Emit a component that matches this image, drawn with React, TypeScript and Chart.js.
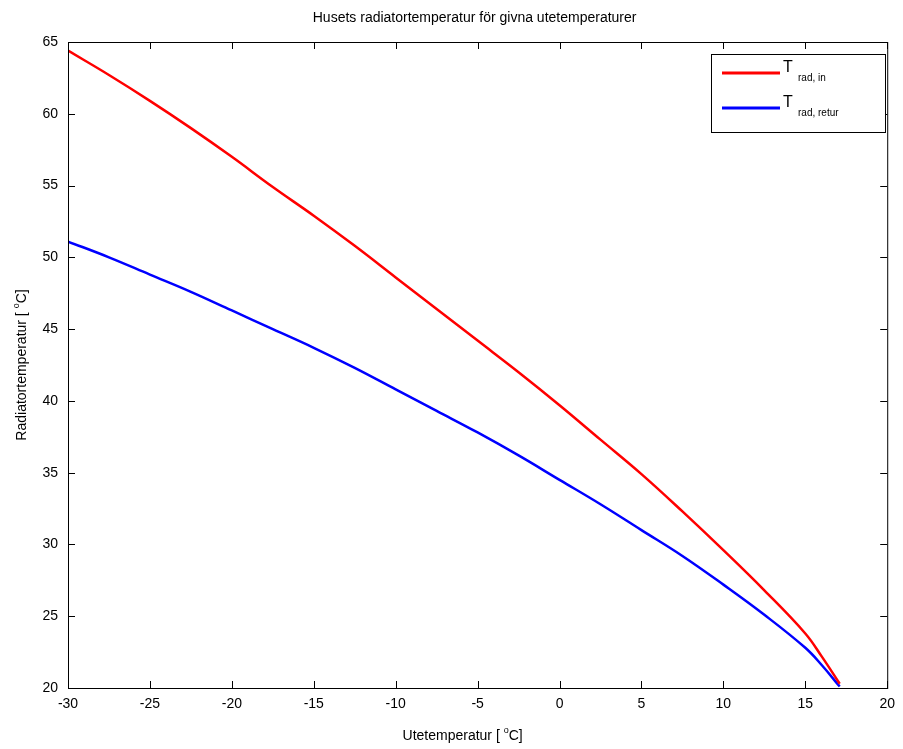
import React, { useEffect, useRef } from "react";
import { Chart, registerables } from "chart.js";

Chart.register(...registerables);

const outdoorTemps = [-30, -27.5, -25, -22.5, -20, -17.5, -15, -12.5, -10, -7.5, -5, -2.5, 0, 2.5, 5, 7.5, 10, 12.5, 15, 16, 17.1];
const radIn = [64.4, 62.7, 60.9, 59.0, 57.0, 54.9, 52.9, 50.8, 48.6, 46.4, 44.2, 42.0, 39.7, 37.3, 34.9, 32.3, 29.6, 26.8, 23.8, 22.2, 20.3];
const radRetur = [51.1, 50.0, 48.8, 47.6, 46.3, 45.0, 43.7, 42.3, 40.8, 39.3, 37.8, 36.2, 34.5, 32.8, 31.0, 29.2, 27.2, 25.1, 22.8, 21.6, 20.1];
const xTicks = [-30, -25, -20, -15, -10, -5, 0, 5, 10, 15, 20];
const yTicks = [20, 25, 30, 35, 40, 45, 50, 55, 60, 65];

const titleText = "Husets radiatortemperatur för givna utetemperaturer";
const xLabel = "Utetemperatur [ ";
const yLabel = "Radiatortemperatur [ ";
const legendSubs = ["rad, in", "rad, retur"];
const FONT = "'Liberation Sans', Arial, sans-serif";

const decorPlugin = {
  id: "decor",
  afterDraw(chart: any) {
    const ctx = chart.ctx;
    const a = chart.chartArea;
    const xs = chart.scales.x;
    const ys = chart.scales.y;
    ctx.save();
    ctx.strokeStyle = "#000";
    ctx.lineWidth = 1;
    ctx.strokeRect(a.left + 0.5, a.top + 0.5, a.right - a.left, a.bottom - a.top);
    const tl = 7;
    ctx.beginPath();
    xs.ticks.forEach((t: any) => {
      const px = Math.round(xs.getPixelForValue(t.value)) + 0.5;
      ctx.moveTo(px, a.bottom);
      ctx.lineTo(px, a.bottom - tl);
      ctx.moveTo(px, a.top);
      ctx.lineTo(px, a.top + tl);
    });
    ys.ticks.forEach((t: any) => {
      const py = Math.round(ys.getPixelForValue(t.value)) + 0.5;
      ctx.moveTo(a.left, py);
      ctx.lineTo(a.left + tl, py);
      ctx.moveTo(a.right, py);
      ctx.lineTo(a.right - tl, py);
    });
    ctx.stroke();

    ctx.fillStyle = "#000";
    ctx.font = `14px ${FONT}`;
    ctx.textAlign = "center";
    ctx.textBaseline = "middle";
    ctx.fillText(titleText, (a.left + a.right) / 2 - 3, 18);

    const drawLabel = (base: string, cx: number, cy: number) => {
      ctx.font = `14px ${FONT}`;
      const w1 = ctx.measureText(base).width;
      ctx.font = `9px ${FONT}`;
      const w2 = ctx.measureText("o").width;
      ctx.font = `14px ${FONT}`;
      const w3 = ctx.measureText("C]").width;
      const total = w1 + w2 + w3;
      const x0 = cx - total / 2;
      ctx.textAlign = "left";
      ctx.font = `14px ${FONT}`;
      ctx.fillText(base, x0, cy);
      ctx.font = `9px ${FONT}`;
      ctx.fillText("o", x0 + w1, cy - 5);
      ctx.font = `14px ${FONT}`;
      ctx.fillText("C]", x0 + w1 + w2, cy);
    };
    drawLabel(xLabel, (a.left + a.right) / 2 - 15, 736);
    ctx.save();
    ctx.translate(22, (a.top + a.bottom) / 2);
    ctx.rotate(-Math.PI / 2);
    drawLabel(yLabel, 0, 0);
    ctx.restore();

    const lx = 711, ly = 54, lw = 174, lh = 78;
    ctx.fillStyle = "#fff";
    ctx.fillRect(lx, ly, lw, lh);
    ctx.strokeStyle = "#000";
    ctx.lineWidth = 1;
    ctx.strokeRect(lx + 0.5, ly + 0.5, lw, lh);
    const colors = ["#ff0000", "#0000ff"];
    const rowsY = [73, 108];
    rowsY.forEach((ry, i) => {
      ctx.strokeStyle = colors[i];
      ctx.lineWidth = 3;
      ctx.beginPath();
      ctx.moveTo(722, ry);
      ctx.lineTo(780, ry);
      ctx.stroke();
      ctx.fillStyle = "#000";
      ctx.textAlign = "left";
      ctx.font = `16px ${FONT}`;
      ctx.fillText("T", 783, ry - 5);
      ctx.font = `10px ${FONT}`;
      ctx.fillText(legendSubs[i], 798, ry + 5);
    });
    ctx.restore();
  },
};

export default function App() {
  const ref = useRef<HTMLCanvasElement>(null);
  useEffect(() => {
    const chart = new Chart(ref.current!, {
      type: "line",
      data: {
        datasets: [
          {
            label: "T rad, in",
            data: outdoorTemps.map((x, i) => ({ x, y: radIn[i] })),
            borderColor: "#ff0000",
            borderWidth: 2.5,
            pointRadius: 0,
            tension: 0.4,
          },
          {
            label: "T rad, retur",
            data: outdoorTemps.map((x, i) => ({ x, y: radRetur[i] })),
            borderColor: "#0000ff",
            borderWidth: 2.5,
            pointRadius: 0,
            tension: 0.4,
          },
        ],
      },
      options: {
        animation: false,
        responsive: false,
        maintainAspectRatio: false,
        layout: { padding: { left: 0, top: 42, right: 15, bottom: 0 } },
        plugins: { legend: { display: false }, title: { display: false }, tooltip: { enabled: false } },
        scales: {
          x: {
            type: "linear",
            min: -30,
            max: 20,
            afterBuildTicks: (s: any) => { s.ticks = xTicks.map((v) => ({ value: v })); },
            afterFit: (s: any) => { s.height = 61; },
            grid: { display: false, drawTicks: false },
            border: { display: false },
            ticks: { color: "#000", padding: 8, font: { family: FONT, size: 14 } },
          },
          y: {
            type: "linear",
            min: 20,
            max: 65,
            afterBuildTicks: (s: any) => { s.ticks = yTicks.map((v) => ({ value: v })); },
            afterFit: (s: any) => { s.width = 68; },
            grid: { display: false, drawTicks: false },
            border: { display: false },
            ticks: { color: "#000", padding: 10, font: { family: FONT, size: 14 } },
          },
        },
      } as any,
      plugins: [decorPlugin],
    });
    return () => chart.destroy();
  }, []);
  return (
    <div style={{ position: "fixed", left: 0, top: 0, width: 903, height: 749, background: "#fff" }}>
      <canvas ref={ref} width={903} height={749} />
    </div>
  );
}
